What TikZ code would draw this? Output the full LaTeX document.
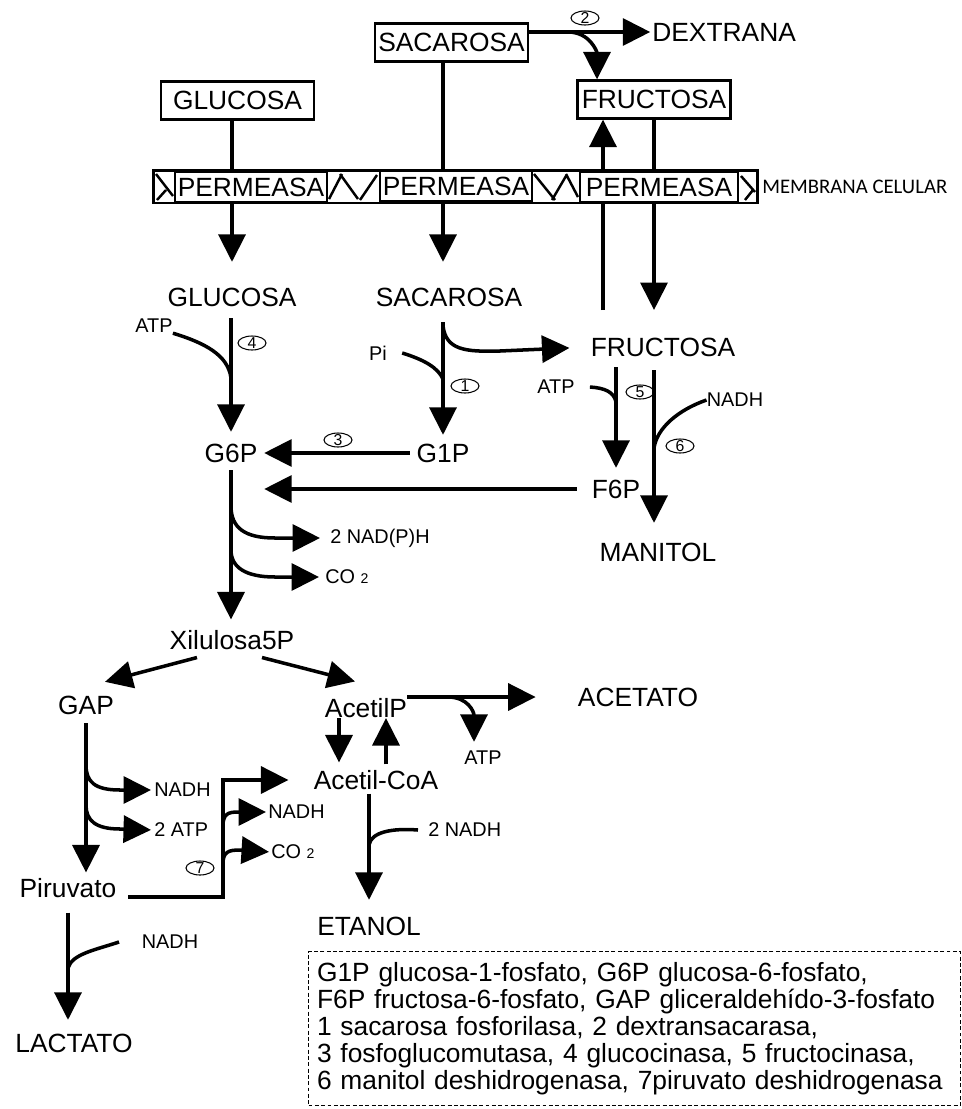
\documentclass[tikz,border=0pt]{standalone}
\usepackage{fontspec}
\setmainfont{Liberation Sans}
\newfontfamily\membfont{Carlito}
\usetikzlibrary{shapes.geometric, arrows.meta, positioning}

\begin{document}
\begin{tikzpicture}[
    x=0.02cm, y=-0.02cm,
    every node/.style={font=\fontsize{15}{16}\selectfont, inner sep=0pt},
    outbox/.style={rectangle, draw, line width=1.3pt, minimum width=3.06cm, minimum height=0.76cm},
    permbox/.style={rectangle, draw, line width=1pt, fill=white, minimum height=0.6cm},
    minor/.style={font=\fontsize{11.3}{12}\selectfont},
    enz/.style={ellipse, draw, line width=0.6pt, minimum width=0.56cm, minimum height=0.28cm, inner sep=-0.6pt, font=\fontsize{9}{9}\selectfont},
    lnk/.style={line width=2pt},
    arr/.style={lnk, -{Triangle[length=5.5mm, width=5.4mm]}}
]
\useasboundingbox (0,0) rectangle (961,1109);

% Outside the cell
\node[outbox] (sacOut) at (451.5,42.5) {SACAROSA};
\node[outbox] (glcOut) at (237.5,100.5) {GLUCOSA};
\node[outbox] (fruOut) at (654,99.5) {FRUCTOSA};
\node[anchor=west] (dex) at (652,32) {DEXTRANA};
\node[enz] (e2) at (585,18) {2};

% Membrane
\node[draw, line width=1.7pt, minimum width=12.1cm, minimum height=0.66cm] (mem) at (455.5,186.5) {};
\node[permbox, minimum width=3.04cm] (p1) at (251,187) {PERMEASA};
\node[permbox, minimum width=3.04cm] (p2) at (456,186) {PERMEASA};
\node[permbox, minimum width=3.16cm] (p3) at (659,187) {PERMEASA};
\draw[line width=1.4pt] (156,174) -- (173,196) (157,200) -- (166,190);
\draw[line width=1.4pt] (329,199) -- (342,174) (340,174) -- (358,199) (360,200) -- (377,175);
\draw[line width=1.4pt] (534,174) -- (555,200) (552,200) -- (566,176) (566,174) -- (578,197);
\draw[line width=1.4pt] (741,176) -- (755,192) (745,200) -- (753,190);
\node[anchor=west, font=\membfont\fontsize{11.8}{12}\selectfont] (memlab) at (762,187) {MEMBRANA CELULAR};

% Inside the cell
\node (glcIn) at (232,297) {GLUCOSA};
\node (sacIn) at (449,297) {SACAROSA};
\node (fruIn) at (663,347) {FRUCTOSA};
\node (g6p) at (231,453) {G6P};
\node (g1p) at (443,453) {G1P};
\node (f6p) at (616,489) {F6P};
\node (man) at (658,552) {MANITOL};
\node (xil) at (232,640) {Xilulosa5P};
\node (gap) at (86,705) {GAP};
\node (acp) at (366,708) {AcetilP};
\node (acet) at (638,697) {ACETATO};
\node (acoa) at (376,780) {Acetil-CoA};
\node (pir) at (68,888) {Piruvato};
\node (etoh) at (369,926) {ETANOL};
\node (lac) at (74,1043) {LACTATO};

% Cofactors
\node[minor] (atp1) at (154,326) {ATP};
\node[minor] (pi) at (378,353) {Pi};
\node[minor] (atp2) at (556,387) {ATP};
\node[minor] (nadh1) at (735,400) {NADH};
\node[minor, anchor=west] (nadph) at (330,538) {2 NAD(P)H};
\node[minor, anchor=west] (co2a) at (325,577) {CO {\fontsize{8}{8}\selectfont 2}};
\node[minor, anchor=west] (nadh2) at (154,790) {NADH};
\node[minor, anchor=west] (atp4) at (154,830) {2 ATP};
\node[minor, anchor=west] (nadh3) at (268,812) {NADH};
\node[minor, anchor=west] (co2b) at (271,852) {CO {\fontsize{8}{8}\selectfont 2}};
\node[minor] (atp3) at (483,758) {ATP};
\node[minor, anchor=west] (nadh4) at (428,830) {2 NADH};
\node[minor] (nadh5) at (170,942) {NADH};

% Enzymes
\node[enz] (e1) at (465,386) {1};
\node[enz] (e3) at (338,440) {3};
\node[enz] (e4) at (252,343) {4};
\node[enz] (e5) at (640,392) {5};
\node[enz] (e6) at (680,446) {6};
\node[enz] (e7) at (200,868) {7};

% Dextran
\draw[arr, shorten >=1pt] (sacOut.east |- dex.west) -- (dex.west);
\coordinate (d0) at (568,32);
\draw[arr] (d0) .. controls (590,32) and (597,52) .. ([xshift=-1.14cm]fruOut.north);

% Transport
\draw[lnk] (glcOut.south -| glcIn) -- (p1.north -| glcIn);
\draw[arr, shorten >=0.51cm] (p1.south -| glcIn) -- (glcIn.north);
\draw[lnk] (sacOut.south -| g1p) -- (p2.north -| g1p);
\draw[arr, shorten >=0.51cm] (p2.south -| g1p) -- (sacIn.north -| g1p);
\coordinate (fUp) at (603,310);
\draw[lnk] (fUp) -- (fUp |- p3.south);
\draw[arr] (fUp |- p3.north) -- (fUp |- fruOut.south);
\draw[lnk] (fruOut.south) -- (p3.north -| fruOut);
\draw[arr] (p3.south -| fruOut) -- (fUp -| fruOut);

% Sucrose
\draw[arr, shorten <=0.31cm, shorten >=0.17cm] (sacIn.south -| g1p) -- (g1p.north);
\coordinate (s0) at (443,326);
\draw[arr, shorten >=0.42cm] (s0) .. controls (446,350) and (465,352) .. (500,351) -- (fruIn.west);
\coordinate (j1) at (443,379);
\draw[lnk] ([xshift=0.3cm]pi.east) .. controls (425,360) and (438,368) .. (j1);

% Glucose
\draw[arr, shorten <=0.23cm, shorten >=0.23cm] (glcIn.south -| g6p) -- (g6p.north);
\coordinate (j4) at (231,378);
\draw[lnk] (atp1.south east) .. controls (205,343) and (228,355) .. (j4);
\draw[arr, shorten <=0.13cm, shorten >=0.13cm] (g1p.west) -- (g6p.east);
\draw[arr, shorten <=0.29cm, shorten >=0.13cm] (f6p.west) -- (f6p.west -| g6p.east);

% Fructose
\draw[arr, shorten <=0.21cm, shorten >=0.23cm] (fruIn.south -| f6p) -- (f6p.north);
\coordinate (j5) at (616,402);
\draw[lnk] ([xshift=0.3cm]atp2.east) .. controls (605,388) and (614,392) .. (j5);
\draw[arr, shorten <=0.27cm, shorten >=0.39cm] (fruIn.south -| fruOut) -- (man.north -| fruOut);
\coordinate (j6) at (654,448);
\draw[lnk] (nadh1.west) .. controls (678,410) and (657,428) .. (j6);

% Pentose phosphate
\draw[arr, shorten <=0.15cm, shorten >=0.21cm] (g6p.south) -- (xil.north -| g6p);
\coordinate (b1) at (231,506);
\coordinate (b2) at (231,550);
\draw[arr, shorten >=0.2cm] (b1) .. controls (231,528) and (245,538) .. (275,538) -- (nadph.west);
\draw[arr, shorten >=0.12cm] (b2) .. controls (231,567) and (245,577) .. (275,577) -- (co2a.west);
\draw[arr] ([xshift=-0.7cm, yshift=-0.15cm]xil.south) -- ([xshift=0.38cm, yshift=0.27cm]gap.north);
\draw[arr] ([xshift=0.6cm, yshift=-0.15cm]xil.south) -- ([xshift=-0.22cm, yshift=0.33cm]acp.north);

% GAP to pyruvate
\draw[arr, shorten <=0.17cm, shorten >=0.11cm] (gap.south) -- (gap.south |- pir.north);
\coordinate (b3) at (86,765);
\coordinate (b4) at (86,805);
\draw[arr, shorten >=0.06cm] (b3) .. controls (86,782) and (95,790) .. (120,790) -- (nadh2.west);
\draw[arr, shorten >=0.06cm] (b4) .. controls (86,820) and (95,829) .. (120,829) -- (atp4.west);

% Pyruvate
\coordinate (pdh) at (223,780);
\draw[arr, shorten >=0.5cm] ([xshift=0.23cm, yshift=-0.18cm]pir.east) -| (pdh) -- (acoa.west);
\coordinate (b5) at (223,826);
\coordinate (b6) at (223,864);
\draw[arr, shorten >=0.04cm] (b5) .. controls (223,814) and (228,812) .. (238,812) -- (nadh3.west);
\draw[arr, shorten >=0.04cm] (b6) .. controls (223,852) and (228,850) .. (240,850) -- (co2b.west);
\draw[arr, shorten <=0.29cm, shorten >=0.27cm] (pir.south) -- (pir.south |- lac.north);
\coordinate (j7) at (68,968);
\draw[lnk] ([xshift=-0.45cm]nadh5.west) .. controls (95,950) and (72,954) .. (j7);

% Acetyl branch
\draw[arr, shorten >=0.15cm] ([xshift=-0.54cm]acp.south) -- ([xshift=-0.54cm]acp.south |- acoa.north);
\draw[arr, shorten <=0.11cm] ([xshift=0.4cm]acp.south |- acoa.north) -- ([xshift=0.4cm]acp.south);
\draw[arr, shorten >=0.84cm] (acp.east |- acet.west) -- (acet.west);
\coordinate (b8) at (448,697);
\draw[arr, shorten >=0.18cm] (b8) .. controls (468,697) and (474,712) .. ([xshift=-0.18cm]atp3.north);
\draw[arr, shorten <=0.07cm, shorten >=0.33cm] (acoa.south -| etoh) -- (etoh.north);
\coordinate (j8) at (369,845);
\draw[lnk] ([xshift=-0.2cm]nadh4.west) .. controls (392,828) and (371,832) .. (j8);

% Legend
\node[draw, dash pattern=on 2.2pt off 1.4pt, line width=0.6pt, anchor=north west, text width=12.7cm,
      inner xsep=0.17cm, inner ysep=0.22cm, align=left, font=\fontsize{15}{15.3}\selectfont] (legend) at (308,951)
  {G1P glucosa-1-fosfato, G6P glucosa-6-fosfato,\\
   F6P fructosa-6-fosfato, GAP gliceraldehído-3-fosfato\\
   1 sacarosa fosforilasa, 2 dextransacarasa,\\
   3 fosfoglucomutasa, 4 glucocinasa, 5 fructocinasa,\\
   6 manitol deshidrogenasa, 7piruvato deshidrogenasa};

\end{tikzpicture}
\end{document}
